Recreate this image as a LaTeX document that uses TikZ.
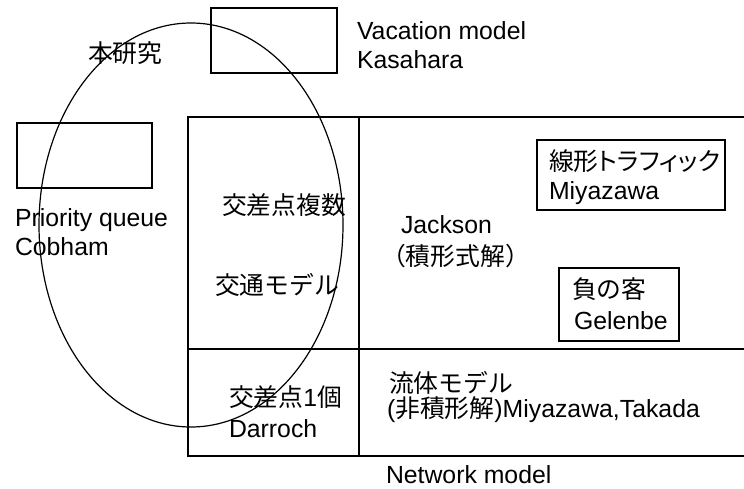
\documentclass[tikz,border=0pt]{standalone}
\usepackage{fontspec}
\usetikzlibrary{shapes.geometric}
\setmainfont{Liberation Sans}
\newfontfamily\cjk{Noto Sans CJK JP}
\newfontfamily\cjkp[RawFeature=+palt]{Noto Sans CJK JP}
\begin{document}
\begin{tikzpicture}[x=1pt,y=-1pt,
  txt/.style={inner sep=0pt, outer sep=0pt, font=\fontsize{24.8}{29}\selectfont},
  jtxt/.style={txt, anchor=base west, text height=19pt, text depth=2pt},
  ln/.style={line width=1.3pt},
  box/.style={draw, line width=1.3pt, inner sep=0pt, outer sep=0pt}]
\useasboundingbox (0,0) rectangle (744,488);

% empty boxes
\node[box, minimum width=126pt, minimum height=65pt] (vbox) at (274,40.5) {};
\node[box, minimum width=135pt, minimum height=65pt] (pbox) at (84.5,155.5) {};

% framed text boxes
\node[box, minimum width=188pt, minimum height=70pt] (lbox) at (631,175) {};
\node[box, minimum width=120pt, minimum height=73pt] (gbox) at (619,304.5) {};

% network table
\coordinate (tl) at (188,117);
\coordinate (tr) at (744,117);
\coordinate (ml) at (188,349);
\coordinate (mr) at (744,349);
\coordinate (bl) at (188,456);
\coordinate (br) at (744,456);
\coordinate (vt) at (359,117);
\coordinate (vb) at (359,456);
\draw[ln] (tr) -- (tl) -- (bl) -- (br);
\draw[ln] (ml) -- (mr);
\draw[ln] (vt) -- (vb);

% ellipse
\node[draw, ellipse, line width=1.2pt, minimum width=304pt, minimum height=404pt, inner sep=0pt] (study) at (191,225) {};

% texts
\node[txt, anchor=base west] (vac1) at (357,39) {Vacation model};
\node[txt, anchor=base west] (vac2) at (357,68) {Kasahara};
\node[txt, anchor=base west] (pq1) at (15,226) {Priority queue};
\node[txt, anchor=base west] (pq2) at (15,255) {Cobham};
\node[jtxt] (hon) at (88,62) {\cjk 本研究};
\node[jtxt] (kf) at (222,214) {\cjk 交差点複数};
\node[jtxt] (km) at (215,294) {\cjk 交通モデル};
\node[jtxt] (k1) at (229,406) {{\cjk 交差点}1{\cjk 個}};
\node[txt, anchor=base west] (dar) at (229,437) {Darroch};
\node[txt, anchor=base west] (jack) at (401,233) {Jackson};
\node[jtxt] (seki) at (381,265) {\cjk （積形式解）};
\node[jtxt] (sen) at (549,170) {\cjkp 線形トラフィック};
\node[txt, anchor=base west] (miy) at (549,199) {Miyazawa};
\node[jtxt] (fu) at (572,298) {\cjk 負の客};
\node[txt, anchor=base west] (gel) at (574,329) {Gelenbe};
\node[jtxt, text depth=1pt] (ryu) at (389,392) {\cjk 流体モデル};
\node[txt, anchor=base west, text height=19pt] (hi) at (387,417) {({\cjk 非積形解})Miyazawa,Takada};
\node[txt, anchor=base west] (net) at (386,483) {Network model};
\end{tikzpicture}
\end{document}
